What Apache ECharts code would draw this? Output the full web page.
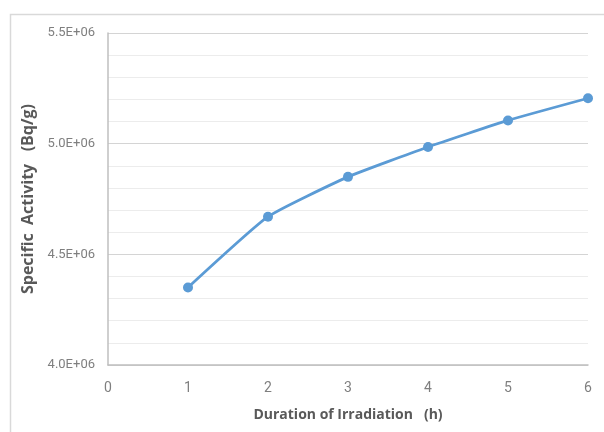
<!DOCTYPE html>
<html>
<head>
<meta charset="utf-8">
<script src="https://cdn.jsdelivr.net/npm/echarts@6/dist/echarts.min.js"></script>
<style>html,body{margin:0;padding:0;background:#fff}#c{width:604px;height:432px}</style>
</head>
<body>
<div id="c"></div>
<script>
// Data
const hours = [1, 2, 3, 4, 5, 6];
const activity = [4.35e6, 4.67e6, 4.85e6, 4.985e6, 5.105e6, 5.205e6];
const yTickLabels = {4000000: '4.0E+06', 4500000: '4.5E+06', 5000000: '5.0E+06', 5500000: '5.5E+06'};
const xTitle = 'Duration of Irradiation   (h)';
const yTitle = 'Specific  Activity   (Bq/g)';

const chart = echarts.init(document.getElementById('c'), null, {renderer: 'canvas'});
const numFont = '"Liberation Sans Narrow", "Roboto", sans-serif';
chart.setOption({
  animation: false,
  backgroundColor: '#fff',
  graphic: [{
    type: 'rect', left: 8, top: 12, silent: true,
    shape: {x: 0, y: 0, width: 640, height: 460},
    style: {fill: 'none', stroke: '#d9d9d9', lineWidth: 1.5}
  }],
  grid: {left: 108, right: 16, top: 33, bottom: 67, containLabel: false},
  xAxis: {
    type: 'value', min: 0, max: 6, interval: 1,
    name: xTitle, nameLocation: 'middle', nameGap: 43,
    nameTextStyle: {fontFamily: '"Open Sans", sans-serif', fontWeight: 'bold', fontSize: 14, color: '#595959'},
    axisLine: {show: true, lineStyle: {color: '#bfbfbf', width: 1.5}},
    axisTick: {show: false},
    splitLine: {show: false},
    axisLabel: {margin: 16, fontFamily: numFont, fontSize: 14, color: '#7f7f7f'}
  },
  yAxis: {
    type: 'value', min: 4000000, max: 5500000, interval: 500000,
    name: yTitle, nameLocation: 'middle', nameGap: 67,
    nameTextStyle: {fontFamily: '"Open Sans", sans-serif', fontWeight: 'bold', fontSize: 16, color: '#595959'},
    axisLine: {show: true, lineStyle: {color: '#bfbfbf', width: 1.5}},
    axisTick: {show: false},
    splitLine: {show: true, lineStyle: {color: '#d4d4d4', width: 1.2}},
    minorTick: {show: false, splitNumber: 5},
    minorSplitLine: {show: true, lineStyle: {color: '#ececec', width: 1.2}},
    axisLabel: {margin: 13, fontFamily: numFont, fontSize: 13, color: '#7f7f7f',
      formatter: v => yTickLabels[v] || ''}
  },
  series: [{
    type: 'line',
    data: hours.map((h, i) => [h, activity[i]]),
    smooth: 0.15,
    symbol: 'circle', symbolSize: 10,
    lineStyle: {color: '#5b9bd5', width: 2.75},
    itemStyle: {color: '#5b9bd5'}
  }]
});
</script>
</body>
</html>
